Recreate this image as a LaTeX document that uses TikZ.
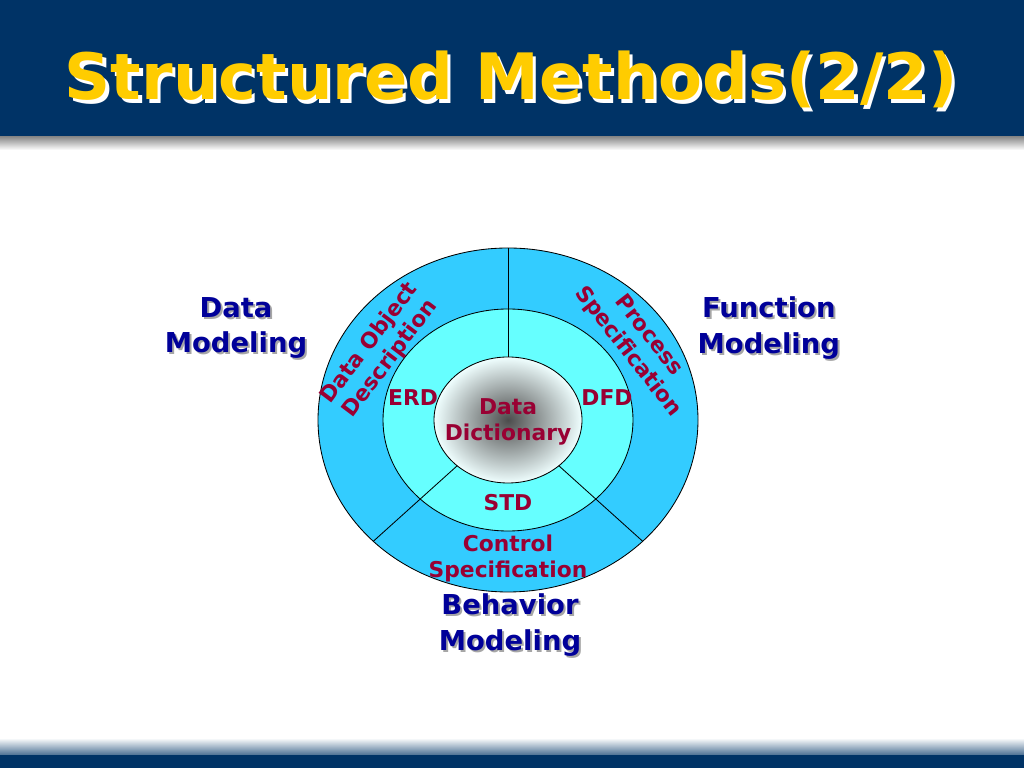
\documentclass[tikz,border=0pt]{standalone}
\usepackage{fontspec}
\setmainfont{DejaVu Sans}
\usetikzlibrary{shapes.geometric}

\definecolor{navy}{HTML}{003366}
\definecolor{titleyellow}{HTML}{FFCC00}
\definecolor{outerblue}{HTML}{33CCFF}
\definecolor{middlecyan}{HTML}{66FFFF}
\definecolor{labelblue}{HTML}{000099}
\definecolor{partred}{HTML}{990033}

\begin{document}
\begin{tikzpicture}[line width = 0.6pt,
                        ring/.style = {ellipse, draw, outer sep = 0pt, inner sep = 0pt},
                        heading/.style = {font = \fontsize{45.5}{50}\selectfont\bfseries, anchor = base},
                        modeling/.style = {font = \fontsize{19.5}{25}\selectfont\bfseries, text = labelblue, align = center},
                        modshadow/.style = {modeling, text = black!35},
                        part/.style = {font = \fontsize{15.5}{18.5}\selectfont\bfseries, text = partred, align = center}]
      \useasboundingbox (0, 0) rectangle (25.6, 19.2);
      % header and footer bands
      \fill [navy] (0, 15.775) rectangle (25.6, 19.2);
      \shade [top color = black!45, bottom color = white] (0, 15.45) rectangle (25.6, 15.775);
      \shade [top color = white, bottom color = navy!70] (0, 0.325) rectangle (25.6, 0.75);
      \fill [navy] (0, 0) rectangle (25.6, 0.325);
      \node [heading, text = white] (titleS) at (12.86, 16.62){Structured Methods(2/2)};
      \node [heading, text = titleyellow] (title) at (12.78, 16.7){Structured Methods(2/2)};
      % rings
      \node [ring, fill = outerblue, minimum width = 9.5cm, minimum height = 8.6cm] (outer) at (12.7, 8.7){};
      \node [ring, fill = middlecyan, minimum width = 6.25cm, minimum height = 5.55cm] (middle) at (12.7, 8.7){};
      \node [ring, inner color = black!70, outer color = cyan!6, minimum width = 3.7cm, minimum height = 3.15cm] (inner) at (12.7, 8.7){};
      \draw (inner.90) -- (outer.90);
      \draw (inner.222) -- (outer.222);
      \draw (inner.318) -- (outer.318);
      % labels inside
      \node [part] (dict) at (12.7, 8.65){Data\\Dictionary};
      \node [part] (erd) at (10.325, 9.25){ERD};
      \node [part] (dfd) at (15.175, 9.25){DFD};
      \node [part] (std) at (12.7, 6.625){STD};
      \node [part] (cspec) at (12.7, 5.25){Control\\Specification};
      \node [part, rotate = 53] (dod) at (9.5, 10.42){Data Object\\Description};
      \node [part, rotate = -52] (pspec) at (15.95, 10.6){Process\\Specification};
      % modeling labels
      \node [modshadow] (dataS) at (5.95, 10.95){Data\\Modeling};
      \node [modeling] (data) at (5.9, 11.0){Data\\Modeling};
      \node [modshadow] (funcS) at (19.27, 10.95){Function\\Modeling};
      \node [modeling] (func) at (19.22, 11.0){Function\\Modeling};
      \node [modshadow] (behS) at (12.8, 3.525){Behavior\\Modeling};
      \node [modeling] (beh) at (12.75, 3.575){Behavior\\Modeling};
    \end{tikzpicture}
\end{document}
